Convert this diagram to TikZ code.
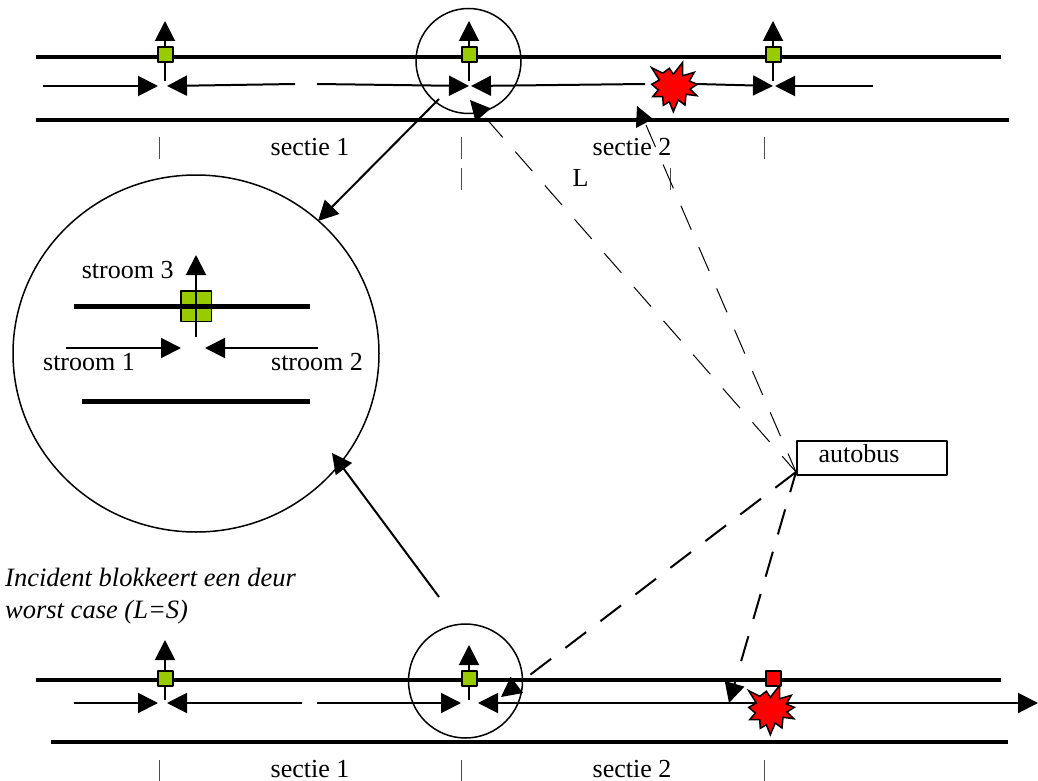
\documentclass[tikz,border=0pt]{standalone}
\usepackage{fontspec}
\setmainfont{Liberation Serif}
\usetikzlibrary{arrows.meta}
\definecolor{deurgroen}{HTML}{99CC00}
\tikzset{
	rail/.style={line width=4pt},
	bigrail/.style={line width=5pt},
	stroom/.style={line width=2pt,-{Triangle[length=20pt,width=20pt]}},
	bus/.style={line width=1pt,dash pattern=on 26pt off 19pt},
	busbold/.style={line width=2pt,dash pattern=on 26pt off 18pt,-{Triangle[length=20pt,width=20pt]}},
	tick/.style={line width=1pt,black!70},
	deur/.style={draw=black,line width=2pt,fill=deurgroen,minimum size=15pt,inner sep=0pt},
	label/.style={anchor=base,inner sep=0pt,font=\fontsize{26}{30}\selectfont},
	flash/.pic={
		\draw[line width=1.5pt,fill=red,line join=miter]
		(-23.3,-19.3)--(-12.3,-13.7)--(-5.7,-18.7)--(-1.7,-12.7)--(7.7,-24.7)--(7.7,-11.3)
		--(19.3,-14.7)--(14.3,-6)--(22.3,-2.7)--(15,2)--(21.7,8.7)--(11,7.3)--(10,18)
		--(3.3,13)--(-1.7,24.7)--(-5.7,14.7)--(-11.7,18.3)--(-12.3,9.7)--(-22.3,9.7)
		--(-16.7,3)--(-23.3,-2.7)--(-15.7,-7)--cycle;
	}
}
\begin{document}
\begin{tikzpicture}[x=1pt,y=-1pt,line join=round]
	\useasboundingbox (0,0) rectangle (1038,781);
	% ligne boven
	\path (36,57.5) coordinate (T1) (1001,57.5) coordinate (T2)
	(36,120) coordinate (T3) (1009,120) coordinate (T4);
	\draw[rail] (T1)--(T2);
	\draw[rail] (T3)--(T4);
	% ligne onder
	\path (36,680) coordinate (U1) (1001,680) coordinate (U2)
	(51,741.5) coordinate (U3) (1008,741.5) coordinate (U4);
	\draw[rail] (U1)--(U2);
	\draw[rail] (U3)--(U4);
	% deuren
	\foreach\n/\x/\yb/\yt/\ys in {a/165/81/21/55,b/469/81/21/55,c/773/81/21/55,d/165/700/640/678,e/469/700/645/678}
	{\path (\x,\yb) coordinate (\n0) (\x,\yt) coordinate (\n1);
		\draw[stroom] (\n0)--(\n1);
		\node[deur] (deur\n) at (\x,\ys) {};}
	\node[deur,fill=red] (deurf) at (773,678) {};
	% stromen boven
	\foreach\n/\xa/\ya/\xb/\yb in {p/43/86/158/86,q/295/84/167/86,r/317/84/469/86,s/645/84/471/86,t/697/84/773/86,v/873/86/775/86}
	{\path (\xa,\ya) coordinate (\n0) (\xb,\yb) coordinate (\n1);
		\draw[stroom] (\n0)--(\n1);}
	% stromen onder
	\foreach\n/\xa/\xb in {k/74/158,l/302/167,m/317/461}
	{\path (\xa,703) coordinate (\n0) (\xb,703) coordinate (\n1);
		\draw[stroom] (\n0)--(\n1);}
	\path (478,703) coordinate (n0) (1038,703) coordinate (n1);
	\draw[line width=2pt,{Triangle[length=20pt,width=20pt]}-{Triangle[length=20pt,width=20pt]}] (n0)--(n1);
	\pic at (675,87) {flash};
	\pic at (772,710) {flash};
	% maatstreepjes
	\foreach\x/\ya/\yb in {159/137/159,461/137/159,461/168/190,764/137/159,670/168/190,159/760/781,461/760/781,764/760/781}
	{\draw[tick] (\x,\ya)--(\x,\yb);}
	\node[label] (sectieA) at (310,155) {sectie 1};
	\node[label] (sectieB) at (632,155) {sectie 2};
	\node[label] (lengte) at (580.5,186) {L};
	\node[label] (sectieC) at (310,777) {sectie 1};
	\node[label] (sectieD) at (632,777) {sectie 2};
	% cirkels
	\node[draw,circle,line width=1.5pt,minimum size=105pt,inner sep=0pt] (kringA) at (468.5,61) {};
	\node[draw,circle,line width=1.5pt,minimum size=114pt,inner sep=0pt] (kringB) at (465.5,681) {};
	\draw[line width=1.5pt] (196,353.5) ellipse (183 and 178.5);
	\path (439,99) coordinate (A0) (318,221) coordinate (A1)
	(439,597) coordinate (B0) (332,453) coordinate (B1);
	\draw[stroom] (A0)--(A1);
	\draw[stroom] (B0)--(B1);
	% detail
	\path (74,306.5) coordinate (D1) (310,306.5) coordinate (D2)
	(82,401) coordinate (D3) (310,401) coordinate (D4)
	(196,337) coordinate (D5) (196,255) coordinate (D6)
	(66,348) coordinate (D7) (181,348) coordinate (D8)
	(318,348) coordinate (D9) (205,348) coordinate (D10);
	\node[deur,line width=1.5pt,minimum size=30.5pt] (deurg) at (196,306) {};
	\draw[bigrail] (D1)--(D2);
	\draw[bigrail] (D3)--(D4);
	\draw[stroom] (D5)--(D6);
	\draw[stroom] (D7)--(D8);
	\draw[stroom] (D9)--(D10);
	\node[label] (stroomC) at (127.7,278) {stroom 3};
	\node[label] (stroomA) at (89,370) {stroom 1};
	\node[label] (stroomB) at (317,370) {stroom 2};
	\node[label,anchor=base west,font=\fontsize{26.5}{30}\selectfont\itshape] (incident) at (5,586) {Incident blokkeert een deur};
	\node[label,anchor=base west,font=\fontsize{26.5}{30}\selectfont\itshape] (worst) at (5,618) {worst case (L=S)};
	% autobus
	\node[draw,fill=white,line width=2pt,minimum width=150pt,minimum height=34pt,inner sep=0pt] (autobus) at (872,457.5) {};
	\node[label] (bustekst) at (859,462) {autobus};
	\path (796,472) coordinate (S)
	(470,100) coordinate (L1) (646,125) coordinate (L2)
	(501,697) coordinate (L3) (729,703) coordinate (L4);
	\draw[bus,dash phase=5pt,-{Triangle[length=20pt,width=20pt]}] (S)--(L1);
	\draw[bus,dash phase=6pt] (S)--(L2);
	\fill (637,106)--(653,119)--(636,128)--cycle;
	\draw[busbold] (S)--(L3);
	\draw[busbold,dash phase=5pt] (S)--(L4);
\end{tikzpicture}
\end{document}
